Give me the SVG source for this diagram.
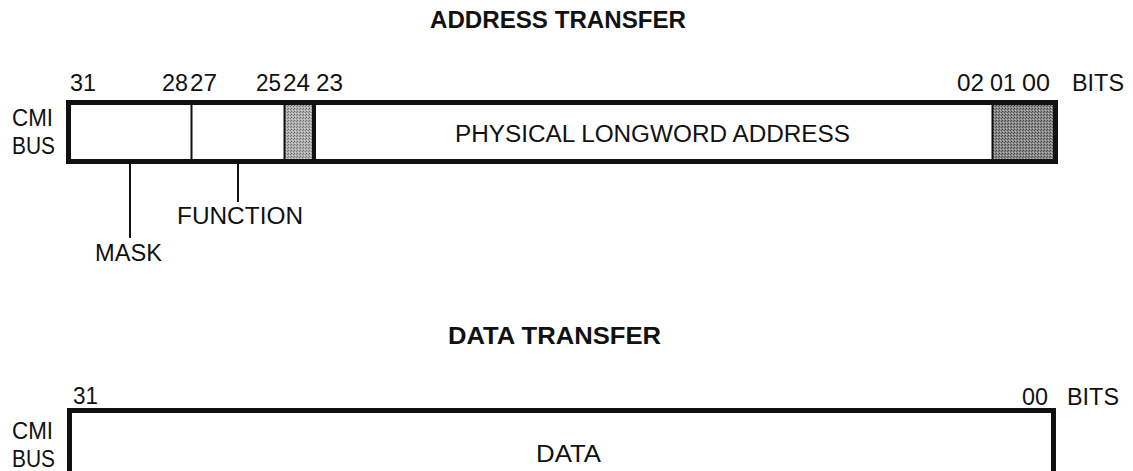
<svg xmlns="http://www.w3.org/2000/svg" width="1133" height="471" viewBox="0 0 1133 471">
<style>
.t{font-family:"Liberation Sans",Arial,sans-serif;font-size:23.5px;fill:#111}
.h{font-family:"Liberation Sans",Arial,sans-serif;font-size:23.5px;font-weight:bold;fill:#111}
.box{fill:#fff;stroke:#111;stroke-width:5}
.thin{stroke:#111;stroke-width:2;fill:none}
.thick{stroke:#111;stroke-width:4;fill:none}
</style>
<defs>
<pattern id="stip1" width="3" height="3" patternUnits="userSpaceOnUse">
<rect width="3" height="3" fill="#b0b0b0"/>
<rect x="0" y="0" width="1" height="1" fill="#6a6a6a"/>
<rect x="2" y="1" width="1" height="1" fill="#7a7a7a"/>
<rect x="1" y="2" width="1" height="1" fill="#d0d0d0"/>
</pattern>
<pattern id="stip2" width="3" height="3" patternUnits="userSpaceOnUse">
<rect width="3" height="3" fill="#8a8a8a"/>
<rect x="0" y="0" width="1" height="1" fill="#444"/>
<rect x="2" y="1" width="1" height="1" fill="#555"/>
<rect x="1" y="2" width="1" height="1" fill="#b8b8b8"/>
</pattern>
</defs>
<rect width="1133" height="471" fill="#fff"/>

<g id="address-title">
<text class="h" x="430" y="28" textLength="256" lengthAdjust="spacingAndGlyphs">ADDRESS TRANSFER</text>
</g>

<g id="address-bits">
<text class="t" x="70" y="91" textLength="26" lengthAdjust="spacingAndGlyphs">31</text>
<text class="t" x="162" y="91" textLength="26" lengthAdjust="spacingAndGlyphs">28</text>
<text class="t" x="190" y="91" textLength="27" lengthAdjust="spacingAndGlyphs">27</text>
<text class="t" x="256" y="91" textLength="25" lengthAdjust="spacingAndGlyphs">25</text>
<text class="t" x="283" y="91" textLength="27" lengthAdjust="spacingAndGlyphs">24</text>
<text class="t" x="316" y="91" textLength="27" lengthAdjust="spacingAndGlyphs">23</text>
<text class="t" x="957" y="91" textLength="27" lengthAdjust="spacingAndGlyphs">02</text>
<text class="t" x="990" y="91" textLength="26" lengthAdjust="spacingAndGlyphs">01</text>
<text class="t" x="1022" y="91" textLength="28" lengthAdjust="spacingAndGlyphs">00</text>
<text class="t" x="1072" y="91" textLength="52" lengthAdjust="spacingAndGlyphs">BITS</text>
</g>

<g id="address-bus-label">
<text class="t" x="12" y="126" textLength="41" lengthAdjust="spacingAndGlyphs">CMI</text>
<text class="t" x="12" y="154" textLength="43" lengthAdjust="spacingAndGlyphs">BUS</text>
</g>

<g id="address-register">
<rect class="box" x="68.5" y="102.5" width="987" height="59"/>
<line class="thin" x1="191.5" y1="105" x2="191.5" y2="159"/>
<rect x="285" y="105" width="27" height="54" fill="url(#stip1)"/>
<line class="thin" x1="284.5" y1="105" x2="284.5" y2="159"/>
<line class="thick" x1="314" y1="105" x2="314" y2="159"/>
<rect x="993" y="105" width="60" height="54" fill="url(#stip2)"/>
<line class="thin" x1="992.5" y1="105" x2="992.5" y2="159"/>
<text class="t" x="455" y="142" textLength="395" lengthAdjust="spacingAndGlyphs">PHYSICAL LONGWORD ADDRESS</text>
</g>

<g id="connectors">
<line class="thin" x1="130" y1="164" x2="130" y2="238"/>
<line class="thin" x1="238" y1="164" x2="238" y2="202"/>
</g>

<g id="function-label">
<text class="t" x="177" y="224" textLength="126" lengthAdjust="spacingAndGlyphs">FUNCTION</text>
</g>
<g id="mask-label">
<text class="t" x="95" y="261" textLength="67" lengthAdjust="spacingAndGlyphs">MASK</text>
</g>

<g id="data-title">
<text class="h" x="448" y="344" textLength="213" lengthAdjust="spacingAndGlyphs">DATA TRANSFER</text>
</g>

<g id="data-bits">
<text class="t" x="73" y="404" textLength="25" lengthAdjust="spacingAndGlyphs">31</text>
<text class="t" x="1022" y="405" textLength="26" lengthAdjust="spacingAndGlyphs">00</text>
<text class="t" x="1067" y="405" textLength="52" lengthAdjust="spacingAndGlyphs">BITS</text>
</g>

<g id="data-bus-label">
<text class="t" x="12" y="439" textLength="41" lengthAdjust="spacingAndGlyphs">CMI</text>
<text class="t" x="12" y="467" textLength="43" lengthAdjust="spacingAndGlyphs">BUS</text>
</g>

<g id="data-register">
<path d="M69.5,480 V410.5 H1053.5 V480" fill="#fff" stroke="#111" stroke-width="5"/>
<text class="t" x="536" y="462" textLength="65" lengthAdjust="spacingAndGlyphs">DATA</text>
</g>
</svg>
